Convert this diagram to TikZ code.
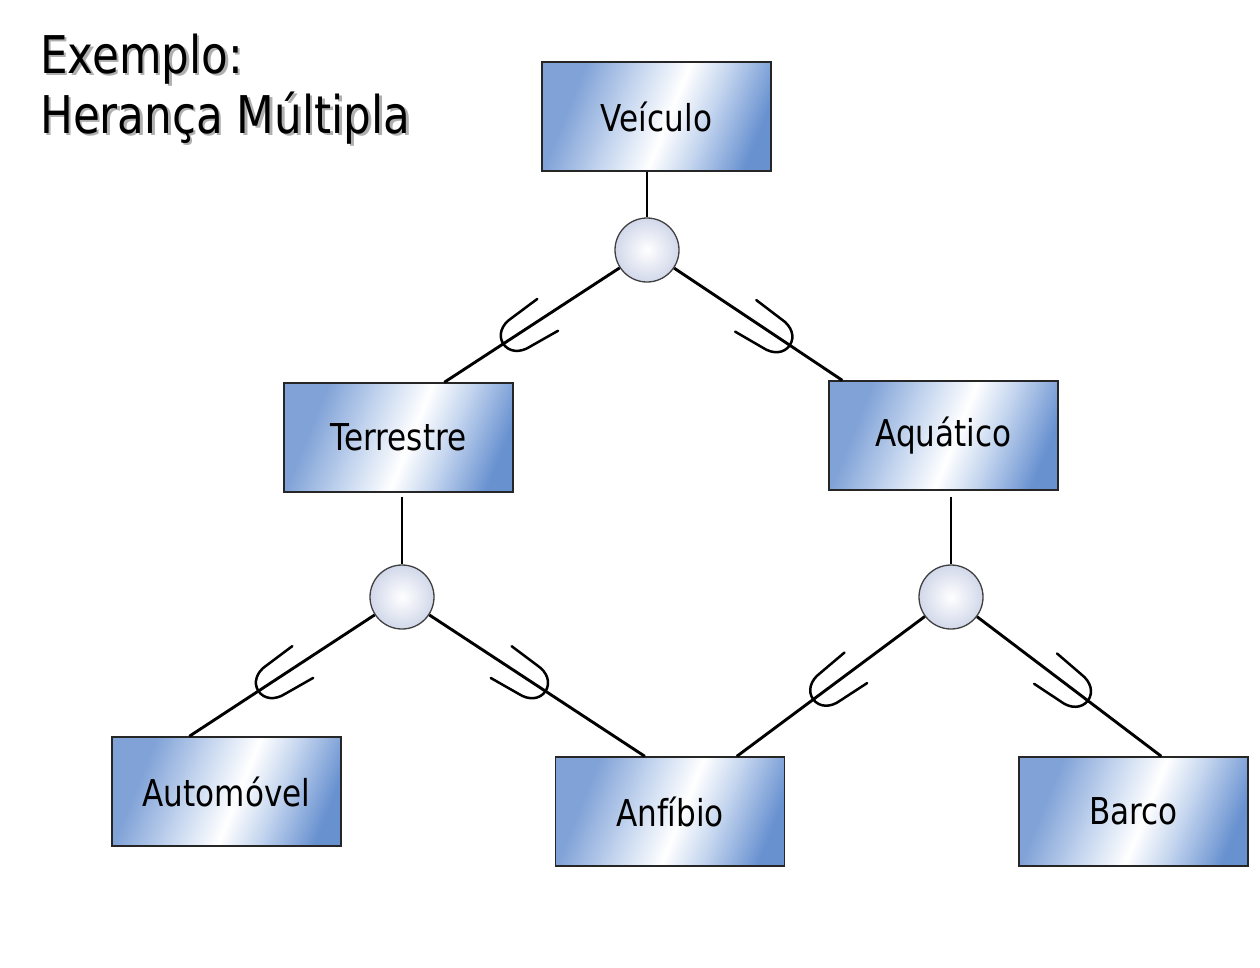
\documentclass[tikz,border=0pt]{standalone}
\usepackage{fontspec}
\setmainfont{DejaVu Sans}[FakeStretch=0.84]
\usetikzlibrary{calc,decorations.markings}
\definecolor{boxblue}{RGB}{104,145,208}
\definecolor{boxleft}{RGB}{128,162,215}
\definecolor{boxmid}{RGB}{200,216,240}
\definecolor{circfill}{RGB}{210,216,234}
\definecolor{shadowgray}{RGB}{175,175,175}
\pgfdeclarehorizontalshading{boxshade}{100bp}{color(0bp)=(boxleft); color(28bp)=(boxleft); color(42bp)=(boxmid); color(53bp)=(white); color(62bp)=(boxmid); color(76bp)=(boxblue); color(100bp)=(boxblue)}
\begin{document}
\begin{tikzpicture}[x=1pt,y=-1pt,
  entity/.style={draw=black!85, line width=1.4pt, minimum width=229pt, minimum height=109pt,
    inner sep=0pt, shading=boxshade, shading angle=-22, font=\fontsize{37}{44}\selectfont},
  gen/.style={circle, draw=black!75, line width=1.3pt, minimum size=64pt, inner sep=0pt,
    inner color=white, outer color=circfill},
  link/.style={line width=2.9pt, black},
  sub/.style={link, postaction={decorate, decoration={markings,
    mark=at position 122pt with {\draw[line width=2.5pt, line cap=round]
      (-36pt,19pt) .. controls (-20pt,18pt) .. (-4pt,17pt) .. controls (8pt,17pt) and (17pt,10pt) .. (17pt,0pt)
      .. controls (17pt,-10pt) and (8pt,-17pt) .. (-4pt,-17pt) .. controls (-20pt,-18pt) .. (-36pt,-19pt);}}}},
  ttl/.style={anchor=base west, inner sep=0pt, font=\fontsize{52}{60}\selectfont}
]
\useasboundingbox (0,0) rectangle (1260,967);

% title
\node[ttl, text=shadowgray] (t1s) at (42.5,75.5) {Exemplo:};
\node[ttl, text=shadowgray] (t2s) at (42.5,135.5) {Herança Múltipla};
\node[ttl] (t1) at (40,73) {Exemplo:};
\node[ttl] (t2) at (40,133) {Herança Múltipla};

% entities
\node[entity] (veic) at (656.5,116.5) {Veículo};
\node[entity] (terr) at (398.5,437.5) {Terrestre};
\node[entity] (aqua) at (943.5,435.5) {Aquático};
\node[entity] (auto) at (226.5,791.5) {Automóvel};
\node[entity] (anfi) at (670,811.5) {Anfíbio};
\node[entity] (barc) at (1133.5,811.5) {Barco};

% generalisation circles
\node[gen] (g1) at (647,250) {};
\node[gen] (g2) at (402,597) {};
\node[gen] (g3) at (951,597) {};

% connectors
\draw[link] (veic.south -| g1) -- (g1);
\draw[link] ($(terr.south -| g2)+(0,4)$) -- (g2);
\draw[link] ($(aqua.south -| g3)+(0,6)$) -- (g3);

\draw[sub] (g1) -- ($(terr.north west)+(161,0)$);
\draw[sub] (g1) -- ($(aqua.north west)+(14,0)$);
\draw[sub] (g2) -- ($(auto.north west)+(78,0)$);
\draw[sub] (g2) -- ($(anfi.north west)+(90,0)$);
\draw[sub] (g3) -- ($(anfi.north west)+(182,0)$);
\draw[sub] (g3) -- ($(barc.north west)+(143,0)$);
\end{tikzpicture}
\end{document}
